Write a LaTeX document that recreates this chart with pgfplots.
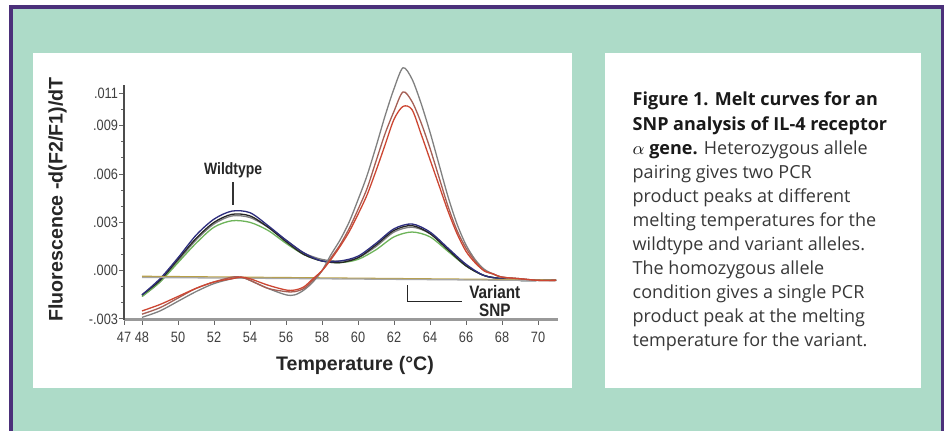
\documentclass[border=0pt]{standalone}
\usepackage{pgfplots}
\pgfplotsset{compat=1.18}
\usepackage{fontspec}
\setmainfont{Open Sans}
\newfontfamily\lsans{Liberation Sans}
\newfontfamily\lcond[FakeStretch=0.85]{Liberation Sans}

\definecolor{bggreen}{RGB}{173,219,200}
\definecolor{framepurple}{RGB}{75,48,122}
\definecolor{hetnavy}{RGB}{45,45,125}
\definecolor{hetgreen}{RGB}{110,180,90}
\definecolor{homred}{RGB}{205,70,50}
\definecolor{hombrown}{RGB}{165,95,85}
\definecolor{ntcolive}{RGB}{185,160,70}

\begin{document}
\begin{tikzpicture}
% background, frame and the two white panels (1px = 0.5pt)
\fill[white] (0pt,0pt) rectangle (473pt,215.5pt);
\fill[framepurple] (4.5pt,0pt) rectangle (472.2pt,213pt);
\fill[bggreen] (6.35pt,0pt) rectangle (470.7pt,211pt);
\fill[white] (16.35pt,21.5pt) rectangle (286pt,189.15pt);
\fill[white] (302.5pt,21.5pt) rectangle (460.5pt,189.15pt);

\begin{axis}[
  at={(62pt,55.6pt)}, anchor=south west,
  scale only axis, width=216.9pt, height=117.15pt,
  xmin=47, xmax=71.1, ymin=-0.00305, ymax=0.0115,
  clip=false,
  axis x line*=bottom, axis y line*=left,
  axis line style={-},
  x axis line style={line width=1.4pt, black!40},
  y axis line style={line width=0.7pt, black!70},
  xtick={47,48,50,52,54,56,58,60,62,64,66,68,70},
  xticklabels={47,48,50,52,54,56,58,60,62,64,66,68,70},
  ytick={-0.003,0,0.003,0.006,0.009,0.011},
  yticklabels={-.003,.000,.003,.006,.009,.011},
  minor ytick={-0.002,-0.001,0.001,0.002,0.004,0.005,0.007,0.008,0.010},
  scaled y ticks=false,
  tick align=outside,
  major tick length=2.5pt, minor tick length=1.5pt,
  tick style={black!60, line width=0.5pt},
  ticklabel style={font=\lcond\fontsize{7.5}{8}\selectfont, text=black!75},
  yticklabel style={xshift=3pt},
  every axis plot/.append style={no markers, smooth, line width=0.65pt},
]

% heterozygous samples: two peaks
\addplot[black!50] coordinates {
(48,-0.0016) (49,-0.0007) (50,0.0006) (51,0.0019) (52,0.0029) (53,0.0034)
(54,0.0033) (55,0.0027) (56,0.0019) (57,0.0011) (58,0.0007) (59,0.0006)
(60,0.0008) (61,0.0015) (62,0.0024) (63,0.0027) (64,0.0023) (65,0.0013)
(66,0.0003) (67,-0.0003) (68,-0.0005) (69,-0.0006) (70,-0.0006) (71,-0.0006)};
\addplot[hetgreen] coordinates {
(48,-0.0016) (49,-0.0007) (50,0.0005) (51,0.0017) (52,0.0027) (53,0.0031)
(54,0.0030) (55,0.0025) (56,0.0017) (57,0.0010) (58,0.0006) (59,0.0005)
(60,0.0007) (61,0.0013) (62,0.0021) (63,0.0024) (64,0.0021) (65,0.0012)
(66,0.0003) (67,-0.0003) (68,-0.0005) (69,-0.0006) (70,-0.0006) (71,-0.0006)};
\addplot[black!85] coordinates {
(48,-0.0015) (49,-0.0006) (50,0.0007) (51,0.0020) (52,0.0030) (53,0.0035)
(54,0.0034) (55,0.0027) (56,0.0018) (57,0.0010) (58,0.0006) (59,0.0005)
(60,0.0008) (61,0.0016) (62,0.0025) (63,0.0028) (64,0.0023) (65,0.0013)
(66,0.0003) (67,-0.0003) (68,-0.0005) (69,-0.0006) (70,-0.0006) (71,-0.0006)};
\addplot[hetnavy] coordinates {
(48,-0.0015) (49,-0.0005) (50,0.0008) (51,0.0022) (52,0.0032) (53,0.0037)
(54,0.0036) (55,0.0028) (56,0.0019) (57,0.0011) (58,0.0006) (59,0.0006)
(60,0.0009) (61,0.0017) (62,0.0026) (63,0.0029) (64,0.0024) (65,0.0014)
(66,0.0004) (67,-0.0003) (68,-0.0005) (69,-0.0006) (70,-0.0006) (71,-0.0006)};

% no-template / flat traces
\addplot[ntcolive] coordinates {(48,-0.00035) (60,-0.00047) (71,-0.00058)};
\addplot[black!35] coordinates {(48,-0.00042) (60,-0.00052) (71,-0.00062)};

% homozygous variant samples: single tall peak
\addplot[black!50] coordinates {
(48,-0.0029) (49,-0.0025) (50,-0.0019) (51,-0.0013) (52,-0.0008) (53,-0.0005)
(53.5,-0.0004) (54,-0.0006) (55,-0.0011) (56,-0.0015) (56.5,-0.0015) (57,-0.0012)
(57.5,-0.0007) (58,0.0000) (58.5,0.0010) (59,0.0019) (59.5,0.0030) (60,0.0044)
(60.5,0.0059) (61,0.0077) (61.5,0.0096) (62,0.0113) (62.5,0.0126) (63,0.0119)
(63.5,0.0104) (64,0.0086) (64.5,0.0066) (65,0.0046) (65.5,0.0029) (66,0.0016)
(66.5,0.0007) (67,0.0001) (67.5,-0.0002) (68,-0.0004) (69,-0.0005) (70,-0.0006) (71,-0.0006)};
\addplot[hombrown] coordinates {
(48,-0.0027) (49,-0.0023) (50,-0.0017) (51,-0.0011) (52,-0.0007) (53,-0.0004)
(53.5,-0.0004) (54,-0.0006) (55,-0.0011) (56,-0.0013) (56.5,-0.0013) (57,-0.0011)
(57.5,-0.0006) (58,0.0000) (58.5,0.0008) (59,0.0016) (59.5,0.0026) (60,0.0038)
(60.5,0.0051) (61,0.0068) (61.5,0.0085) (62,0.0099) (62.5,0.0111) (63,0.0105)
(63.5,0.0092) (64,0.0076) (64.5,0.0058) (65,0.0040) (65.5,0.0025) (66,0.0014)
(66.5,0.0006) (67,0.0000) (67.5,-0.0002) (68,-0.0004) (69,-0.0005) (70,-0.0006) (71,-0.0006)};
\addplot[homred] coordinates {
(48,-0.0025) (49,-0.0021) (50,-0.0016) (51,-0.0011) (52,-0.0007) (53,-0.0005)
(53.5,-0.0004) (54,-0.0005) (55,-0.0009) (56,-0.0012) (56.5,-0.0012) (57,-0.0010)
(57.5,-0.0005) (58,0.0000) (58.5,0.0007) (59,0.0015) (59.5,0.0024) (60,0.0035)
(60.5,0.0047) (61,0.0062) (61.5,0.0078) (62,0.0094) (62.5,0.0102) (63,0.0100)
(63.5,0.0085) (64,0.0069) (64.5,0.0053) (65,0.0037) (65.5,0.0023) (66,0.0012)
(66.5,0.0005) (67,0.0000) (67.5,-0.0002) (68,-0.0004) (69,-0.0005) (70,-0.0006) (71,-0.0006)};

% annotations
\draw[line width=0.7pt, black!80] (axis cs:53.05,0.0055) -- (axis cs:53.05,0.0041);
\node[font=\lcond\bfseries\fontsize{8.2}{9}\selectfont, text=black!85]
  at (axis cs:53.06,0.00625) {Wildtype};
\draw[line width=0.7pt, black!85] (axis cs:62.74,-0.0009) -- (axis cs:62.74,-0.0019)
  -- (axis cs:65.76,-0.0019);
\node[align=center, font=\lcond\bfseries\fontsize{9}{9.3}\selectfont, text=black!85]
  at (axis cs:67.6,-0.00188) {Variant\\SNP};
\end{axis}

% axis titles
\node[rotate=90, font=\lsans\bfseries\fontsize{9.8}{11}\selectfont, text=black!85]
  at (28.75pt,115.75pt) {Fluorescence -d(F2/F1)/dT};
\node[font=\lsans\bfseries\fontsize{9.8}{11}\selectfont, text=black!85]
  at (177.5pt,33pt) {Temperature (°C)};

% caption
\node[anchor=north west, inner sep=0pt, align=left, text=black!78,
      font=\fontsize{9}{12.03}\selectfont] at (316.15pt,169.6pt) {%
\textcolor{black!90}{\textbf{Figure 1. Melt curves for an}}\\
\textcolor{black!90}{\textbf{SNP analysis of IL-4 receptor}}\\
\textcolor{black!90}{$\alpha$ \textbf{gene.}} Heterozygous allele\\
pairing gives two PCR\\
product peaks at different\\
melting temperatures for the\\
wildtype and variant alleles.\\
The homozygous allele\\
condition gives a single PCR\\
product peak at the melting\\
temperature for the variant.};
\end{tikzpicture}
\end{document}
